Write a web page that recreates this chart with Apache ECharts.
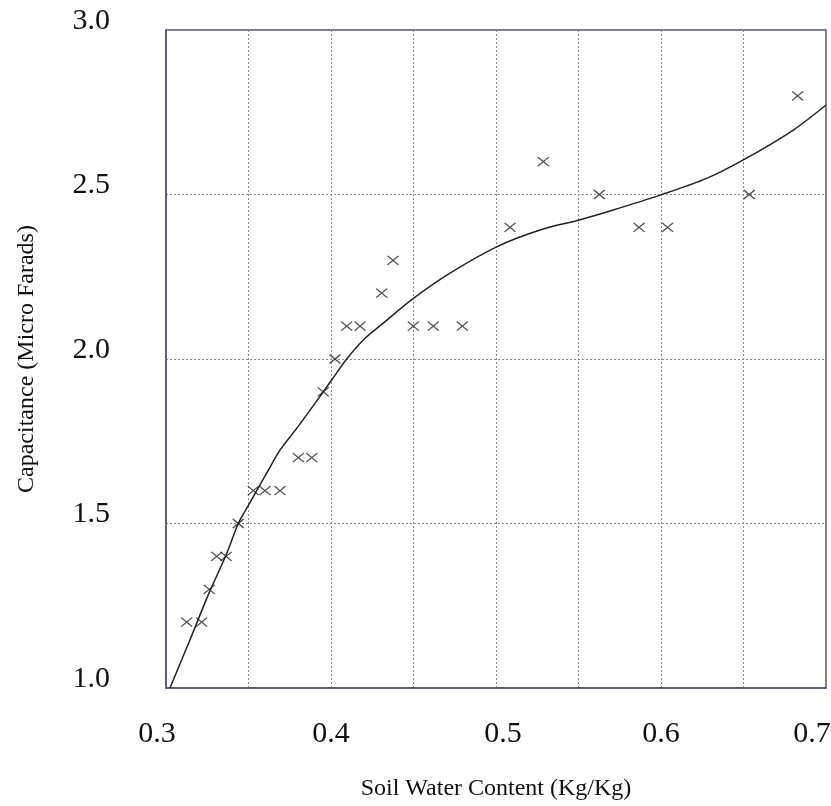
<!DOCTYPE html>
<html>
<head>
<meta charset="utf-8">
<script src="https://cdn.jsdelivr.net/npm/echarts@6/dist/echarts.min.js"></script>
<style>html,body{margin:0;padding:0;background:#fff}#c{width:831px;height:806px}</style>
</head>
<body>
<div id="c"></div>
<script>
// Measured data points (soil water content, capacitance)
const pointX = [0.3125,0.3216,0.3262,0.3307,0.3364,0.3438,0.3529,0.3600,0.3691,0.3802,0.3883,0.3953,0.4024,0.4095,0.4176,0.4307,0.4376,0.4499,0.4620,0.4796,0.5085,0.5287,0.5626,0.5867,0.6040,0.6535,0.6828];
const pointY = [1.2,1.2,1.3,1.4,1.4,1.5,1.6,1.6,1.6,1.7,1.7,1.9,2.0,2.1,2.1,2.2,2.3,2.1,2.1,2.1,2.4,2.6,2.5,2.4,2.4,2.5,2.8];
// Fitted curve
const curveX = [0.3024,0.3145,0.3256,0.3368,0.3438,0.3505,0.3610,0.3691,0.3792,0.3903,0.4004,0.4095,0.4196,0.4317,0.4499,0.4721,0.5004,0.5267,0.5499,0.5711,0.5994,0.6277,0.6499,0.6802,0.7000];
const curveY = [1.0,1.146,1.283,1.409,1.5,1.56,1.653,1.723,1.789,1.865,1.936,2.0,2.058,2.109,2.184,2.261,2.341,2.392,2.422,2.453,2.498,2.549,2.605,2.696,2.772];
const xTicks = [0.3,0.4,0.5,0.6,0.7];
const yTicks = [1.0,1.5,2.0,2.5,3.0];

const font = 'Liberation Serif';
const chart = echarts.init(document.getElementById('c'));
const frame = '#55526a';
const base = {fontFamily: font, fontSize: 30, color: '#111'};
// small per-label nudges as placed in the original scan
const xRich = {
  l9: Object.assign({padding: [0, 18, 0, 0]}, base),
  r7: Object.assign({padding: [0, 0, 0, 14]}, base),
  l14: Object.assign({padding: [0, 28, 0, 0]}, base),
  n: Object.assign({}, base)
};
const xStyle = {'0.3': 'l9', '0.5': 'r7', '0.7': 'l14'};
chart.setOption({
  animation: false,
  backgroundColor: '#fff',
  grid: {left: 166, top: 30, width: 660, height: 658, show: true, borderColor: frame, borderWidth: 1.5,
         containLabel: false, outerBoundsMode: 'none'},
  xAxis: {
    type: 'value', min: 0.3, max: 0.7, interval: 0.05,
    name: 'Soil Water Content (Kg/Kg)', nameLocation: 'middle', nameGap: 89,
    nameTextStyle: {fontFamily: font, fontSize: 24, color: '#111'},
    axisLine: {show: true, lineStyle: {color: frame, width: 1.5}},
    axisTick: {show: false},
    splitLine: {show: true, lineStyle: {color: '#8a8a96', type: [2, 2], width: 1}},
    axisLabel: {
      fontFamily: font, fontSize: 30, color: '#111', margin: 31, rich: xRich,
      formatter: v => {
        const r = Math.round(v*100)/100;
        if (!xTicks.some(t => Math.abs(t - r) < 1e-6)) return '';
        const s = r.toFixed(1);
        return '{' + (xStyle[s] || 'n') + '|' + s + '}';
      }
    }
  },
  yAxis: {
    type: 'value', min: 1.0, max: 3.0, interval: 0.5,
    name: 'Capacitance (Micro Farads)', nameLocation: 'middle', nameGap: 127, nameRotate: 90,
    nameTextStyle: {fontFamily: font, fontSize: 24, color: '#111'},
    axisLine: {show: true, lineStyle: {color: frame, width: 1.5}},
    axisTick: {show: false},
    splitLine: {show: true, lineStyle: {color: '#8a8a96', type: [2, 2], width: 1}},
    axisLabel: {
      fontFamily: font, fontSize: 30, color: '#111', margin: 56, verticalAlign: 'bottom', lineHeight: 18,
      formatter: v => { const r = Math.round(v*10)/10; return yTicks.some(t => Math.abs(t - r) < 1e-6) ? r.toFixed(1) : ''; }
    }
  },
  series: [
    {
      type: 'line', data: curveX.map((x, i) => [x, curveY[i]]),
      smooth: 0.3, showSymbol: false, symbol: 'none',
      lineStyle: {color: '#222', width: 1.5}, z: 3
    },
    {
      type: 'scatter', data: pointX.map((x, i) => [x, pointY[i]]),
      symbol: 'path://M0,0L10,10M10,0L0,10', symbolSize: [11, 9],
      itemStyle: {color: 'rgba(0,0,0,0)', borderColor: '#222', borderWidth: 1.3}, z: 4
    }
  ]
});
</script>
</body>
</html>
